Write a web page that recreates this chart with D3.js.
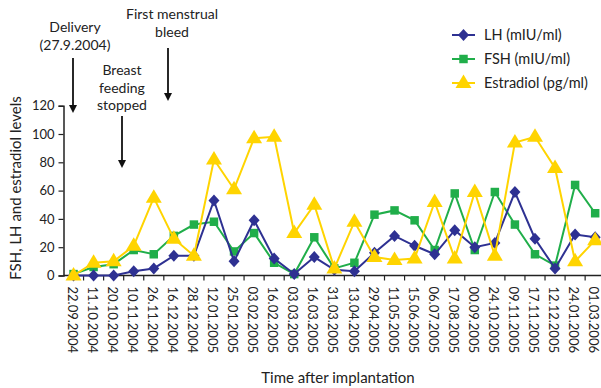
<!DOCTYPE html>
<html>
<head>
<meta charset="utf-8">
<script src="https://cdn.jsdelivr.net/npm/d3@7"></script>
<style>
  html, body { margin: 0; padding: 0; background: #fff; }
  svg { display: block; font-family: Lato, "Open Sans", sans-serif; }
</style>
</head>
<body>
<svg id="chart" width="601" height="388"></svg>
<script>
// Sampling dates
const dates = [
  "22.09.2004", "11.10.2004", "20.10.2004", "10.11.2004", "26.11.2004",
  "16.12.2004", "28.12.2004", "12.01.2005", "25.01.2005", "03.02.2005",
  "16.02.2005", "03.03.2005", "16.03.2005", "31.03.2005", "13.04.2005",
  "29.04.2005", "11.05.2005", "15.06.2005", "06.07.2005", "17.08.2005",
  "00.09.2005", "24.10.2005", "09.11.2005", "17.11.2005", "12.12.2005",
  "24.01.2006", "01.03.2006"
];

// Hormone levels per date
const lh = [0, 0, 0, 3, 5, 14, 14, 53, 10, 39, 12, 1, 13, 4, 3, 16, 28, 21, 15, 32, 20, 23, 59, 26, 5, 29, 27];
const fsh = [1, 6, 8, 18, 15, 28, 36, 38, 17, 30, 9, 1, 27, 5, 9, 43, 46, 39, 18, 58, 18, 59, 36, 15, 7, 64, 44];
const estradiol = [0, 9, 10, 21, 55, 26, 14, 82, 61, 97, 98, 30, 50, 5, 38, 13, 11, 12, 52, 12, 59, 14, 94, 98, 76, 10, 25];

const yTicks = [0, 20, 40, 60, 80, 100, 120];

const seriesList = [
  { name: "FSH (mIU/ml)", values: fsh, color: "#20AE4A", shape: "square" },
  { name: "LH (mIU/ml)", values: lh, color: "#2E3192", shape: "diamond" },
  { name: "Estradiol (pg/ml)", values: estradiol, color: "#FFD400", shape: "triangle" }
];
const legendOrder = ["LH (mIU/ml)", "FSH (mIU/ml)", "Estradiol (pg/ml)"];

const svg = d3.select("#chart");
const plotLeft = 63.5, plotRight = 605.2, plotTop = 105.7, plotBottom = 275.5;

const x = d3.scaleBand().domain(dates).range([plotLeft, plotRight]);
const y = d3.scaleLinear().domain([0, 120]).range([plotBottom, plotTop]);
const cx = d => x(d) + x.bandwidth() / 2;

const markerPath = {
  square: d3.symbol().type(d3.symbolSquare).size(72)(),
  diamond: "M0,-6L5.5,0L0,6L-5.5,0Z",
  triangle: "M0,-8.5L8,5L-8,5Z"
};

// Axes
const xAxis = svg.append("g").attr("transform", `translate(0,${plotBottom})`);
xAxis.append("line").attr("x1", plotLeft).attr("x2", 601).attr("stroke", "#222").attr("stroke-width", 1.5);
const edges = dates.map(d => x(d)).concat([plotRight]);
xAxis.selectAll("line.tk").data(edges.slice(1)).join("line")
  .attr("class", "tk").attr("x1", d => d).attr("x2", d => d)
  .attr("y1", 0).attr("y2", 5).attr("stroke", "#222").attr("stroke-width", 1.2);
xAxis.selectAll("text").data(dates).join("text")
  .attr("transform", d => `translate(${cx(d)},11) rotate(90)`)
  .attr("dy", "0.45em")
  .attr("font-size", 13).attr("fill", "#222")
  .attr("text-anchor", "start")
  .text(d => d);

const yAxis = svg.append("g")
  .attr("transform", `translate(${plotLeft},0)`)
  .call(d3.axisLeft(y).tickValues(yTicks).tickSize(5).tickPadding(4));
yAxis.select(".domain").attr("stroke", "#222").attr("stroke-width", 1.5);
yAxis.selectAll(".tick line").attr("stroke", "#222").attr("stroke-width", 1.2);
yAxis.selectAll(".tick text").attr("font-size", 13).attr("fill", "#222")
  .attr("font-family", "Lato, 'Open Sans', sans-serif");

// Axis titles
svg.append("text").attr("x", 338).attr("y", 383).attr("text-anchor", "middle")
  .attr("font-size", 15).attr("fill", "#222").text("Time after implantation");
svg.append("text").attr("transform", "translate(21,188) rotate(-90)").attr("text-anchor", "middle")
  .attr("font-size", 15).attr("fill", "#222").text("FSH, LH and estradiol levels");

// Series lines and markers
const line = d3.line().x((v, i) => cx(dates[i])).y(v => y(v));
seriesList.forEach(s => {
  const g = svg.append("g");
  g.append("path").attr("d", line(s.values)).attr("fill", "none")
    .attr("stroke", s.color).attr("stroke-width", 2);
  g.selectAll("path.m").data(s.values).join("path").attr("class", "m")
    .attr("d", markerPath[s.shape])
    .attr("transform", (v, i) => `translate(${cx(dates[i])},${y(v)})`)
    .attr("fill", s.color);
});

// Event annotations
const notes = [
  { lines: ["Delivery", "(27.9.2004)"], x: 75, y0: 32, ax: 73, a1: 58, a2: 113 },
  { lines: ["First menstrual", "bleed"], x: 172, y0: 19, ax: 168, a1: 48, a2: 101 },
  { lines: ["Breast", "feeding", "stopped"], x: 122, y0: 75, ax: 122, a1: 116, a2: 168 }
];
notes.forEach(n => {
  n.lines.forEach((t, k) => {
    svg.append("text").attr("x", n.x).attr("y", n.y0 + k * 17.5)
      .attr("text-anchor", "middle").attr("font-size", 14).attr("fill", "#222").text(t);
  });
  svg.append("line").attr("x1", n.ax).attr("x2", n.ax).attr("y1", n.a1).attr("y2", n.a2 - 6)
    .attr("stroke", "#111").attr("stroke-width", 1.8);
  svg.append("path").attr("d", `M${n.ax - 4},${n.a2 - 8}L${n.ax + 4},${n.a2 - 8}L${n.ax},${n.a2}Z`)
    .attr("fill", "#111");
});

// Legend
const legend = svg.append("g");
legendOrder.forEach((name, k) => {
  const s = seriesList.find(d => d.name === name);
  const ly = 35 + k * 24;
  legend.append("line").attr("x1", 452).attr("x2", 475).attr("y1", ly).attr("y2", ly)
    .attr("stroke", s.color).attr("stroke-width", 2);
  legend.append("path").attr("d", markerPath[s.shape])
    .attr("transform", `translate(463.5,${ly})`).attr("fill", s.color);
  legend.append("text").attr("x", 484).attr("y", ly).attr("dy", "0.35em")
    .attr("font-size", 14.5).attr("fill", "#222").text(name);
});
</script>
</body>
</html>
